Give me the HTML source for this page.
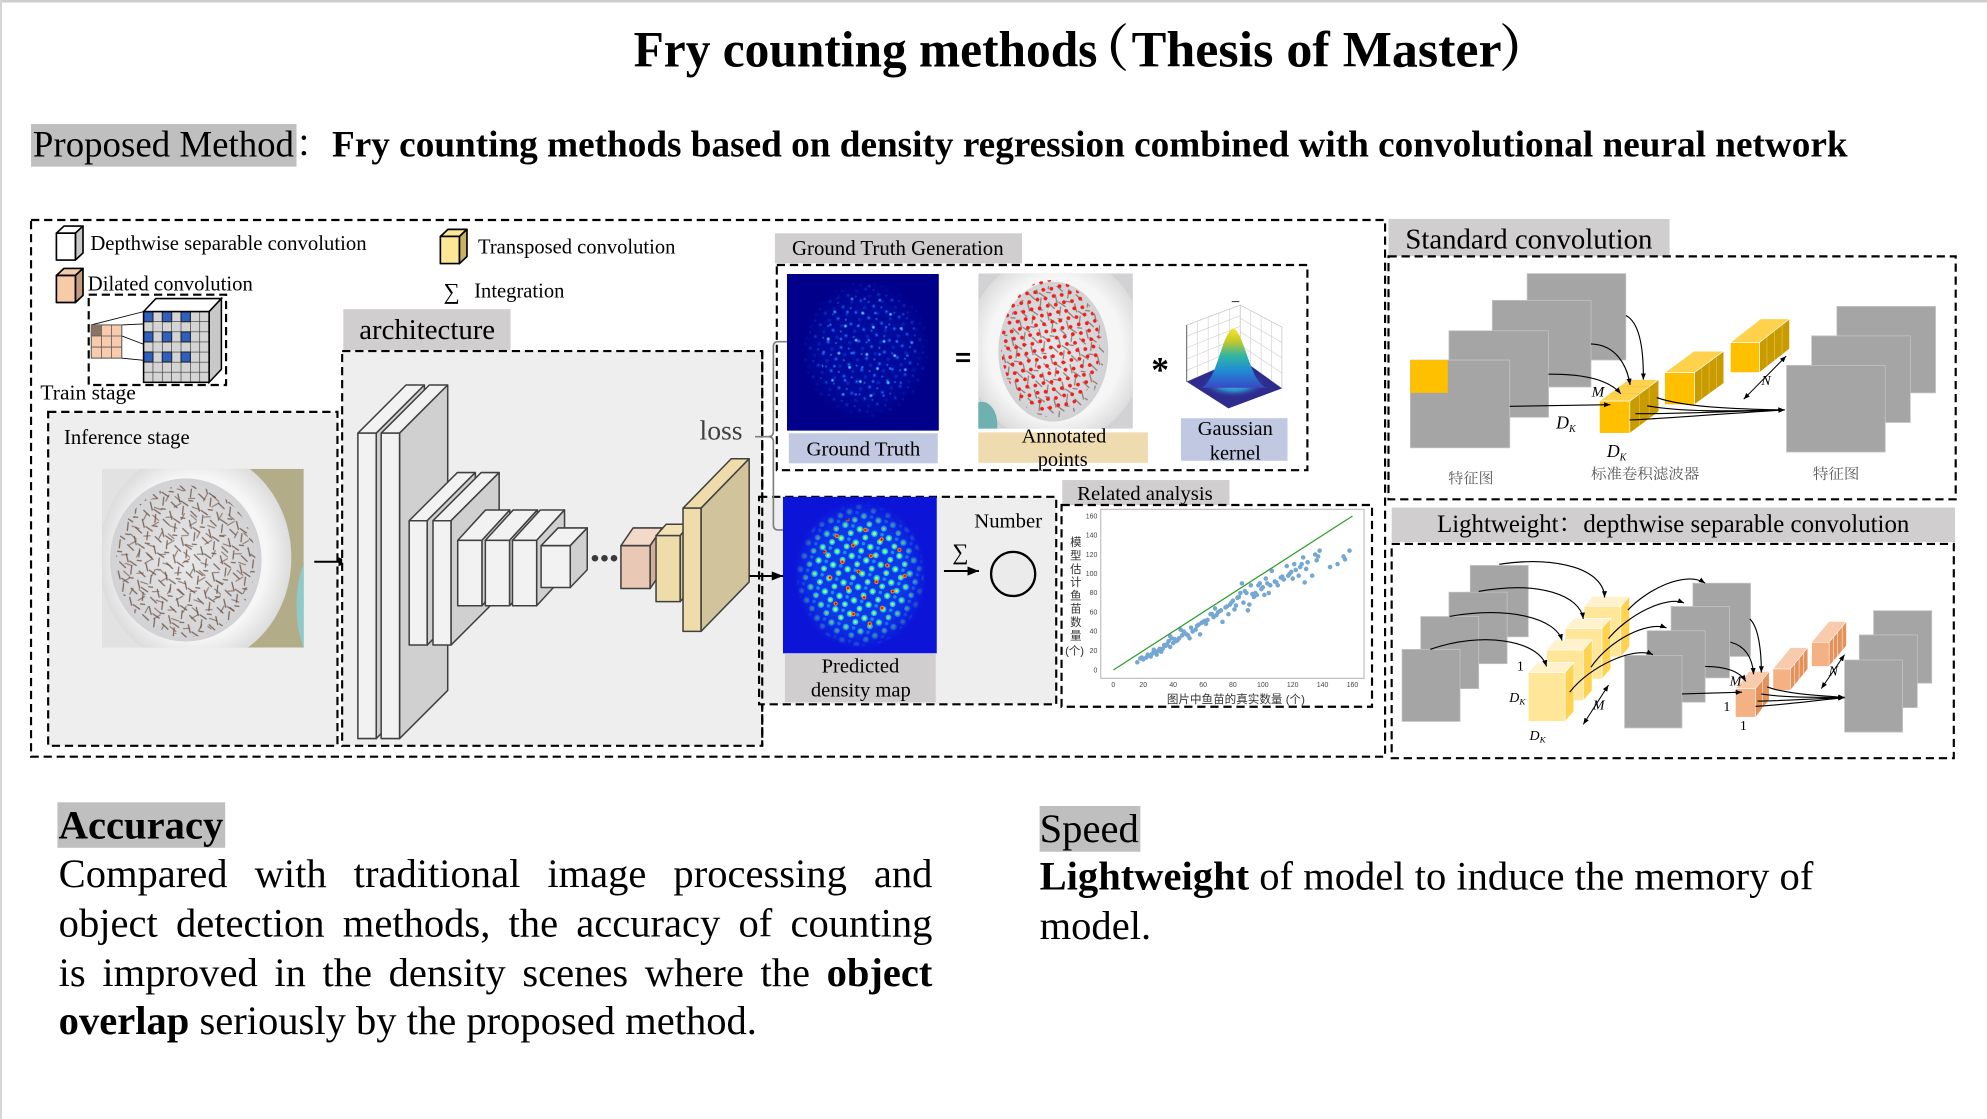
<!DOCTYPE html>
<html><head><meta charset="utf-8">
<style>
html,body{margin:0;padding:0;background:#fff;}
body{width:1987px;height:1119px;overflow:hidden;position:relative;}
#wrap{position:absolute;left:0;top:0;width:1568px;height:883px;transform:scale(1.26722,1.26727);transform-origin:0 0;font-family:"Liberation Serif","Noto Serif CJK SC",serif;color:#000;}
#wrap svg{position:absolute;left:0;top:0;}
.p{position:absolute;font-size:32px;line-height:38.8px;}
.j{text-align:justify;text-align-last:justify;}
.d{stroke:#000;stroke-width:1.7;stroke-dasharray:6.5 3.8;}
.bx{stroke:#404040;stroke-width:1.2;stroke-linejoin:round;}
.gs{fill:#a5a5a5;stroke:#c4c4c4;stroke-width:.6;}
.cv{fill:none;stroke:#000;stroke-width:.9;}
.it{font-style:italic;}
</style></head>
<body><div id="wrap">
<svg width="1568" height="883" viewBox="0 0 1568 883" font-family="'Liberation Serif','Noto Serif CJK SC',serif">
<defs>
<marker id="ah" viewBox="0 0 10 8" refX="10" refY="4" markerWidth="9" markerHeight="7.2" markerUnits="userSpaceOnUse" orient="auto"><path d="M0,0 L10,4 L0,8 z" fill="#000"/></marker>
<marker id="ahs" viewBox="0 0 10 8" refX="10" refY="4" markerWidth="5" markerHeight="4" markerUnits="userSpaceOnUse" orient="auto-start-reverse"><path d="M0,0 L10,4 L0,8 z" fill="#000"/></marker>
<pattern id="fishA" width="17" height="15" patternUnits="userSpaceOnUse" patternTransform="rotate(25)"><path d="M1 2l6 2M11 1l2 6M3 9l4 5M13 10l3-1M8 13l6 1" stroke="#5e4234" stroke-width="1" stroke-linecap="round" fill="none"/></pattern>
<pattern id="fishB" width="23" height="19" patternUnits="userSpaceOnUse" patternTransform="rotate(-40) translate(5,3)"><path d="M2 4l5-2M10 6l1 6M15 2l3 5M4 12l6 1M17 14l4 3" stroke="#6a4a3a" stroke-width=".9" stroke-linecap="round" fill="none"/></pattern>
<pattern id="red" width="9.5" height="9" patternUnits="userSpaceOnUse" patternTransform="rotate(31)"><circle cx="2" cy="2" r="1.5" fill="#f21d1d"/><circle cx="6.5" cy="6" r="1.5" fill="#f21d1d"/></pattern>
<pattern id="gtp" width="11" height="10" patternUnits="userSpaceOnUse" patternTransform="rotate(23)"><circle cx="3" cy="3" r="1.7" fill="#1446ff" opacity=".8"/><circle cx="3" cy="3" r=".7" fill="#35c8ff"/><circle cx="8" cy="7" r="1.4" fill="#1040f0" opacity=".7"/><circle cx="9" cy="1.5" r=".9" fill="#2a7cff"/></pattern>
<pattern id="gtq" width="17" height="14" patternUnits="userSpaceOnUse" patternTransform="rotate(-37)"><circle cx="4" cy="5" r="1.3" fill="#3aa0ff"/><circle cx="4" cy="5" r=".6" fill="#a0ffff"/><circle cx="12" cy="11" r="1.1" fill="#2b70ff"/></pattern>
<pattern id="prp" width="12" height="11" patternUnits="userSpaceOnUse" patternTransform="rotate(17)"><circle cx="3" cy="3" r="2.6" fill="#10b8ff"/><circle cx="3" cy="3" r="1.4" fill="#9cff5a"/><circle cx="9" cy="8" r="2.3" fill="#18d4f0"/><circle cx="9" cy="8" r="1" fill="#ffe020"/><circle cx="9" cy="2" r="1.4" fill="#1a8cff"/></pattern>
<pattern id="prr" width="23" height="21" patternUnits="userSpaceOnUse" patternTransform="rotate(-12)"><circle cx="6" cy="5" r="1.7" fill="#ff8a00"/><circle cx="6" cy="5" r=".9" fill="#e01010"/><circle cx="17" cy="15" r="1.6" fill="#ff9a00"/><circle cx="17" cy="15" r=".9" fill="#d00000"/></pattern>
<radialGradient id="gtfade"><stop offset=".6" stop-color="#00008a" stop-opacity="0"/><stop offset="1" stop-color="#00008a" stop-opacity="1"/></radialGradient>
<radialGradient id="prfade"><stop offset=".65" stop-color="#0c14d8" stop-opacity="0"/><stop offset="1" stop-color="#0c14d8" stop-opacity="1"/></radialGradient>
<radialGradient id="bowl"><stop offset=".75" stop-color="#f6f6f6"/><stop offset="1" stop-color="#dcdcdc"/></radialGradient>
<radialGradient id="water"><stop offset="0" stop-color="#e8e8ea"/><stop offset="1" stop-color="#d2d2d5"/></radialGradient>
<radialGradient id="flglow"><stop offset="0" stop-color="#40d0c0"/><stop offset=".5" stop-color="#2f8ad0"/><stop offset="1" stop-color="#2e2c8c" stop-opacity="0"/></radialGradient>
<linearGradient id="bell" x1="0" y1="0" x2="0" y2="1"><stop offset="0" stop-color="#f9e51f"/><stop offset=".22" stop-color="#c3c92a"/><stop offset=".45" stop-color="#35b7a0"/><stop offset=".7" stop-color="#1f8fd4"/><stop offset="1" stop-color="#3848c4"/></linearGradient>
<clipPath id="cInf"><rect x="80.5" y="370" width="159.2" height="141"/></clipPath>
<clipPath id="cAnn"><rect x="772" y="215.7" width="122" height="122.5"/></clipPath>
<clipPath id="cGt"><rect x="621" y="216.2" width="119.9" height="123.7"/></clipPath>
<clipPath id="cPr"><rect x="617.8" y="392" width="121.5" height="123.6"/></clipPath>
</defs>

<rect x="0" y="0" width="1568" height="2" fill="#cfcfcf"/>
<rect x="0" y="0" width="1.6" height="883" fill="#d6d6d6"/>

<text x="500" y="52.6" font-size="40" font-weight="bold" textLength="366" lengthAdjust="spacingAndGlyphs">Fry counting methods</text>
<text x="851" y="52.6" font-size="40" font-weight="bold">（</text>
<text x="893" y="52.6" font-size="40" font-weight="bold" textLength="292" lengthAdjust="spacingAndGlyphs">Thesis of Master</text>
<text x="1183" y="52.6" font-size="40" font-weight="bold">）</text>

<rect x="24.5" y="97.9" width="209.5" height="33.6" fill="#bfbfbf"/>
<text x="26" y="123.6" font-size="29.4" textLength="206" lengthAdjust="spacingAndGlyphs">Proposed Method</text>
<text x="233" y="123.6" font-size="29.4">：</text>
<text x="262" y="123.6" font-size="29.4" font-weight="bold" textLength="1196" lengthAdjust="spacingAndGlyphs">Fry counting methods based on density regression combined with convolutional neural network</text>

<rect class="d" x="24.5" y="173.6" width="1068.5" height="423.5" fill="none"/>

<g stroke="#000" stroke-width="1.3" stroke-linejoin="round">
<polygon points="44.5,184 50.5,178.4 65.5,178.4 59.5,184" fill="#fff"/>
<polygon points="59.5,184 65.5,178.4 65.5,199.6 59.5,205.2" fill="#c9c9c9"/>
<rect x="44.5" y="184" width="15" height="21.2" fill="#fff"/>
<polygon points="44.5,217.4 50.5,211.8 65.5,211.8 59.5,217.4" fill="#f7caa8"/>
<polygon points="59.5,217.4 65.5,211.8 65.5,233.1 59.5,238.7" fill="#c49a7e"/>
<rect x="44.5" y="217.4" width="15" height="21.3" fill="#f7caa8"/>
<polygon points="347.5,186.6 353.5,181 368.5,181 362.5,186.6" fill="#fde797"/>
<polygon points="362.5,186.6 368.5,181 368.5,202.4 362.5,208" fill="#c8b163"/>
<rect x="347.5" y="186.6" width="15" height="21.4" fill="#fde797"/>
</g>
<text x="71.3" y="197.3" font-size="16.4" textLength="218" lengthAdjust="spacingAndGlyphs">Depthwise separable convolution</text>
<text x="69.3" y="229.2" font-size="16.4" textLength="130.2" lengthAdjust="spacingAndGlyphs">Dilated convolution</text>
<text x="377.2" y="200.1" font-size="16.4" textLength="155.8" lengthAdjust="spacingAndGlyphs">Transposed convolution</text>
<text x="350" y="236" font-size="18">∑</text>
<text x="374.2" y="234.8" font-size="16.4" textLength="71.2" lengthAdjust="spacingAndGlyphs">Integration</text>

<rect class="d" x="70" y="232.5" width="108.4" height="71.3" fill="none"/>
<g stroke="#000" stroke-width=".7">
<line x1="72" y1="256.4" x2="113.3" y2="245.9"/>
<line x1="96.1" y1="256.4" x2="150.2" y2="253.9"/>
<line x1="96.1" y1="265.1" x2="150.2" y2="285.7"/>
<line x1="96.1" y1="282.6" x2="128" y2="285.7"/>
</g>
<rect x="72" y="256.4" width="24.1" height="26.2" fill="#f8cbad" stroke="#555" stroke-width=".8"/>
<rect x="72" y="256.4" width="8.03" height="8.73" fill="#8b7363"/>
<path d="M80.03 256.4V282.6M88.07 256.4V282.6M72 265.13H96.1M72 273.87H96.1" stroke="#555" stroke-width=".6"/>
<polygon points="113.3,245.9 123,235.6 174.7,235.6 165,245.9" fill="#fff" stroke="#000" stroke-width="1.2"/>
<polygon points="165,245.9 174.7,235.6 174.7,291.4 165,301.7" fill="#c8c8c8" stroke="#000" stroke-width="1.2"/>
<rect x="113.3" y="245.9" width="51.7" height="55.8" fill="#d4d4d4"/>
<g fill="#2f5fbf" stroke="#000" stroke-width=".8">
<rect x="113.3" y="245.9" width="7.39" height="7.97"/><rect x="128.07" y="245.9" width="7.39" height="7.97"/><rect x="142.84" y="245.9" width="7.39" height="7.97"/>
<rect x="113.3" y="261.84" width="7.39" height="7.97"/><rect x="128.07" y="261.84" width="7.39" height="7.97"/><rect x="142.84" y="261.84" width="7.39" height="7.97"/>
<rect x="113.3" y="277.78" width="7.39" height="7.97"/><rect x="128.07" y="277.78" width="7.39" height="7.97"/><rect x="142.84" y="277.78" width="7.39" height="7.97"/>
</g>
<path d="M120.69 245.9V301.7M128.07 245.9V301.7M135.46 245.9V301.7M142.84 245.9V301.7M150.23 245.9V301.7M157.62 245.9V301.7M113.3 253.87H165M113.3 261.84H165M113.3 269.81H165M113.3 277.78H165M113.3 285.76H165M113.3 293.73H165" stroke="#333" stroke-width=".5"/>
<rect x="113.3" y="245.9" width="51.7" height="55.8" fill="none" stroke="#000" stroke-width="1.2"/>
<text x="31.9" y="315.1" font-size="16.4" textLength="75.3" lengthAdjust="spacingAndGlyphs">Train stage</text>

<rect class="d" x="38" y="325" width="228.3" height="263.5" fill="#eeeeee"/>
<text x="50.5" y="350.3" font-size="16.4" textLength="99.2" lengthAdjust="spacingAndGlyphs">Inference stage</text>
<g clip-path="url(#cInf)">
<rect x="80.5" y="370" width="159.2" height="141" fill="#b3ac88"/>
<rect x="80.5" y="370" width="80" height="141" fill="#e2e2e2"/>
<ellipse cx="254" cy="478" rx="20" ry="48" fill="#8ecaca"/>
<ellipse cx="153.9" cy="440" rx="76" ry="85" fill="url(#bowl)"/>
<ellipse cx="146.6" cy="441.9" rx="59.8" ry="64.4" fill="url(#water)"/>
<ellipse cx="146.6" cy="443" rx="55" ry="60" fill="url(#fishA)" opacity=".75"/>
<ellipse cx="146.6" cy="443" rx="52" ry="58" fill="url(#fishB)" opacity=".65"/>
</g>
<line x1="248" y1="443.3" x2="276" y2="443.3" stroke="#000" stroke-width="1.6" marker-end="url(#ah)"/>

<rect x="270.9" y="244" width="132" height="32.5" fill="#d0cece"/>
<text x="283.5" y="267.7" font-size="22.7" textLength="107.2" lengthAdjust="spacingAndGlyphs">architecture</text>
<rect class="d" x="270" y="277" width="331.5" height="311.5" fill="#eeeeee"/>

<g class="bx">
<polygon points="282.4,341.8 320.4,303.8 334.9,303.8 296.9,341.8" fill="#f2f2f2"/>
<polygon points="296.9,341.8 334.9,303.8 334.9,544.8 296.9,582.8" fill="#d0d0d0"/>
<rect x="282.4" y="341.8" width="14.5" height="241" fill="#f2f2f2"/>
<polygon points="300.8,341.8 338.8,303.8 353.3,303.8 315.3,341.8" fill="#f2f2f2"/>
<polygon points="315.3,341.8 353.3,303.8 353.3,544.8 315.3,582.8" fill="#d0d0d0"/>
<rect x="300.8" y="341.8" width="14.5" height="241" fill="#f2f2f2"/>

<polygon points="322.9,410.9 360.9,372.9 375.1,372.9 337.1,410.9" fill="#f2f2f2"/>
<polygon points="337.1,410.9 375.1,372.9 375.1,471 337.1,509" fill="#d0d0d0"/>
<rect x="322.9" y="410.9" width="14.2" height="98.1" fill="#f2f2f2"/>
<polygon points="341.7,410.9 379.7,372.9 393.9,372.9 355.9,410.9" fill="#f2f2f2"/>
<polygon points="355.9,410.9 393.9,372.9 393.9,471 355.9,509" fill="#d0d0d0"/>
<rect x="341.7" y="410.9" width="14.2" height="98.1" fill="#f2f2f2"/>

<polygon points="361.2,426.4 383.2,402.4 402.3,402.4 380.3,426.4" fill="#f2f2f2"/>
<polygon points="380.3,426.4 402.3,402.4 402.3,454 380.3,478" fill="#d0d0d0"/>
<rect x="361.2" y="426.4" width="19.1" height="51.6" fill="#f2f2f2"/>
<polygon points="383,426.4 405,402.4 424.1,402.4 402.1,426.4" fill="#f2f2f2"/>
<polygon points="402.1,426.4 424.1,402.4 424.1,454 402.1,478" fill="#d0d0d0"/>
<rect x="383" y="426.4" width="19.1" height="51.6" fill="#f2f2f2"/>
<polygon points="404.4,426.4 426.4,402.4 445.5,402.4 423.5,426.4" fill="#f2f2f2"/>
<polygon points="423.5,426.4 445.5,402.4 445.5,454 423.5,478" fill="#d0d0d0"/>
<rect x="404.4" y="426.4" width="19.1" height="51.6" fill="#f2f2f2"/>

<polygon points="427,430.6 440.4,416.6 463.4,416.6 450,430.6" fill="#f2f2f2"/>
<polygon points="450,430.6 463.4,416.6 463.4,449.6 450,463.6" fill="#d0d0d0"/>
<rect x="427" y="430.6" width="23" height="33" fill="#f2f2f2"/>

<polygon points="490,430.6 499.6,416.6 522.6,416.6 513,430.6" fill="#f2d9c8"/>
<polygon points="513,430.6 522.6,416.6 522.6,450.4 513,464.4" fill="#cfae9a"/>
<rect x="490" y="430.6" width="23" height="33.8" fill="#e9c9b5"/>

<polygon points="517.7,422.7 525.7,413.7 544.7,413.7 536.7,422.7" fill="#f2e2b6"/>
<polygon points="536.7,422.7 544.7,413.7 544.7,465.7 536.7,474.7" fill="#d6c698"/>
<rect x="517.7" y="422.7" width="19" height="52" fill="#efdcab"/>

<polygon points="539,401 577,362 591.2,362 553.2,401" fill="#f0dcaa"/>
<polygon points="553.2,401 591.2,362 591.2,459.2 553.2,498.2" fill="#d1c39b"/>
<rect x="539" y="401" width="14.2" height="97.2" fill="#f0dcaa"/>
</g>
<circle cx="469.5" cy="440.5" r="2.6" fill="#3a3a3a"/><circle cx="477" cy="440.5" r="2.6" fill="#3a3a3a"/><circle cx="484.5" cy="440.5" r="2.6" fill="#3a3a3a"/>
<text x="552" y="346.7" font-size="22" fill="#404040" textLength="34" lengthAdjust="spacingAndGlyphs">loss</text>

<rect class="d" x="599" y="392" width="234.5" height="163.8" fill="#eeeeee"/>
<line class="d" x1="601.5" y1="277" x2="601.5" y2="588.5" fill="none"/>
<line x1="591.5" y1="454.5" x2="618" y2="454.5" stroke="#000" stroke-width="1.6" marker-end="url(#ah)"/>

<path d="M621 269.6H614Q610.3 269.6 610.3 273.5V340.5Q610.3 344.6 606 344.6H595.8M606 344.6Q610.3 344.6 610.3 348.5V414Q610.3 418.2 614 418.2H618" fill="none" stroke="#7f7f7f" stroke-width="1.3"/>

<rect x="611.5" y="184.1" width="195" height="23.7" fill="#d0cece"/>
<text x="625" y="201.2" font-size="16.3" textLength="167" lengthAdjust="spacingAndGlyphs">Ground Truth Generation</text>
<rect class="d" x="613" y="209.1" width="418.7" height="161.9" fill="none"/>
<g clip-path="url(#cGt)">
<rect x="621" y="216.2" width="119.9" height="123.7" fill="#00008a"/>
<ellipse cx="683" cy="276" rx="50" ry="54" fill="#0018b0" opacity=".45"/>
<ellipse cx="683" cy="276" rx="50" ry="54" fill="url(#gtp)" opacity=".6"/>
<ellipse cx="686" cy="272" rx="40" ry="48" fill="url(#gtq)" opacity=".8"/>
<ellipse cx="683" cy="276" rx="52" ry="56" fill="url(#gtfade)"/>
</g>
<rect x="622.5" y="341.9" width="117.5" height="23.7" fill="#c0c8e2"/>
<text x="681.3" y="359.6" font-size="16" text-anchor="middle" textLength="89.8" lengthAdjust="spacingAndGlyphs">Ground Truth</text>
<rect x="754.5" y="278.5" width="11" height="2.2" fill="#000"/><rect x="754.5" y="283.5" width="11" height="2.2" fill="#000"/>

<g clip-path="url(#cAnn)">
<rect x="772" y="215.7" width="122" height="123" fill="#d2d2d4"/>
<ellipse cx="833" cy="275" rx="70" ry="75" fill="url(#bowl)"/>
<ellipse cx="775" cy="335" rx="12" ry="18" fill="#6fb0b0"/>
<ellipse cx="831.2" cy="277.5" rx="43.4" ry="55.2" fill="url(#water)"/>
<ellipse cx="831.2" cy="277.5" rx="40" ry="52" fill="url(#fishA)" opacity=".6"/>
<ellipse cx="829" cy="273" rx="39" ry="52" fill="url(#red)"/>
</g>
<rect x="772" y="341.2" width="133.8" height="24" fill="#efdbb0"/>
<text x="839.6" y="349.3" font-size="16" text-anchor="middle" textLength="66.8" lengthAdjust="spacingAndGlyphs">Annotated</text>
<text x="838.6" y="367.8" font-size="16" text-anchor="middle" textLength="39.4" lengthAdjust="spacingAndGlyphs">points</text>
<text x="908.5" y="301" font-size="28" font-weight="bold">*</text>

<polygon points="936.5,256.5 978.7,240.7 978.7,282.8 936.5,301.2" fill="#fff" stroke="#bbb" stroke-width=".5"/>
<polygon points="978.7,240.7 1011.6,258.2 1011.6,306.5 978.7,282.8" fill="#fff" stroke="#bbb" stroke-width=".5"/>
<path d="M944.9 253.3V297.5M953.4 250.2V293.8M961.8 247V290.2M970.3 243.9V286.5M936.5 265.4L978.7 249.1M936.5 274.4L978.7 257.5M936.5 283.3L978.7 266M936.5 292.3L978.7 274.4M986.9 245.1V288.7M995.2 249.5V294.7M1003.4 253.8V300.6M978.7 251.2L1011.6 270.3M978.7 261.8L1011.6 282.4M978.7 272.3L1011.6 294.4" stroke="#d0d0d0" stroke-width=".5"/>
<line x1="936.5" y1="256.5" x2="936.5" y2="301.2" stroke="#333" stroke-width=".6"/>
<polygon points="936.5,301.2 978.7,282.8 1011.6,306.5 969.4,322.2" fill="#2e2c8c"/>
<ellipse cx="973.5" cy="303" rx="26" ry="11" fill="url(#flglow)"/>
<path d="M947 306C960 304 964 262 973.2 259.1C982 262 987 304 1000 306Z" fill="url(#bell)"/>
<line x1="972" y1="238" x2="978" y2="238" stroke="#333" stroke-width=".8"/>
<rect x="931.9" y="330" width="84.1" height="33.6" fill="#c0c8e2"/>
<text x="974.8" y="343.3" font-size="16" text-anchor="middle" textLength="59.3" lengthAdjust="spacingAndGlyphs">Gaussian</text>
<text x="974.8" y="362.5" font-size="16" text-anchor="middle" textLength="40.3" lengthAdjust="spacingAndGlyphs">kernel</text>

<g clip-path="url(#cPr)">
<rect x="617.8" y="392" width="121.5" height="123.6" fill="#0c14d8"/>
<ellipse cx="679" cy="454" rx="52" ry="58" fill="#1050f0" opacity=".6"/>
<ellipse cx="679" cy="454" rx="50" ry="56" fill="url(#prp)"/>
<ellipse cx="682" cy="450" rx="34" ry="44" fill="url(#prr)"/>
<ellipse cx="679" cy="454" rx="53" ry="59" fill="url(#prfade)"/>
</g>
<rect x="619.4" y="516.1" width="119" height="38.1" fill="#d0cece"/>
<text x="679" y="530.6" font-size="16" text-anchor="middle" textLength="61.3" lengthAdjust="spacingAndGlyphs">Predicted</text>
<text x="679.3" y="549.8" font-size="16" text-anchor="middle" textLength="78.9" lengthAdjust="spacingAndGlyphs">density map</text>
<text x="768.8" y="416.1" font-size="16" textLength="53.6" lengthAdjust="spacingAndGlyphs">Number</text>
<text x="751.5" y="441.4" font-size="18">∑</text>
<line x1="744.9" y1="450.6" x2="772.5" y2="450.6" stroke="#000" stroke-width="1.6" marker-end="url(#ah)"/>
<circle cx="799.5" cy="452.9" r="17.4" fill="#ebebeb" stroke="#000" stroke-width="1.8"/>

<rect x="838.3" y="378.8" width="131.9" height="19.7" fill="#d0cece"/>
<text x="850" y="394.6" font-size="15.6" textLength="107" lengthAdjust="spacingAndGlyphs">Related analysis</text>
<rect class="d" x="837.7" y="398.5" width="245" height="159.2" fill="#fff"/>
<rect x="868.6" y="401.9" width="207.8" height="133.4" fill="#fff" stroke="#bdbdbd" stroke-width=".9"/>
<g font-family="'Liberation Sans',sans-serif" font-size="5.5" fill="#444">
<text x="866" y="530.5" text-anchor="end">0</text><text x="866" y="515.3" text-anchor="end">20</text><text x="866" y="500.1" text-anchor="end">40</text><text x="866" y="484.9" text-anchor="end">60</text><text x="866" y="469.7" text-anchor="end">80</text><text x="866" y="454.6" text-anchor="end">100</text><text x="866" y="439.4" text-anchor="end">120</text><text x="866" y="424.2" text-anchor="end">140</text><text x="866" y="409" text-anchor="end">160</text>
<text x="878.6" y="542" text-anchor="middle">0</text><text x="902.2" y="542" text-anchor="middle">20</text><text x="925.8" y="542" text-anchor="middle">40</text><text x="949.4" y="542" text-anchor="middle">60</text><text x="972.9" y="542" text-anchor="middle">80</text><text x="996.5" y="542" text-anchor="middle">100</text><text x="1020.1" y="542" text-anchor="middle">120</text><text x="1043.7" y="542" text-anchor="middle">140</text><text x="1067.3" y="542" text-anchor="middle">160</text>
</g>
<g font-family="'Liberation Sans','Noto Sans CJK SC',sans-serif" font-size="9" fill="#333" text-anchor="middle">
<text x="849" y="431">模</text><text x="849" y="441.5">型</text><text x="849" y="452">估</text><text x="849" y="462.5">计</text><text x="849" y="473">鱼</text><text x="849" y="483.5">苗</text><text x="849" y="494">数</text><text x="849" y="504.5">量</text><text x="848" y="516.5">(个)</text>
<text x="975.3" y="554.6" textLength="109" lengthAdjust="spacingAndGlyphs">图片中鱼苗的真实数量 (个)</text>
</g>
<g transform="translate(878.6,528.7) scale(1.1794,-0.7594)">
<line x1="0" y1="0" x2="160" y2="160" stroke="#2ca02c" stroke-width="1" vector-effect="non-scaling-stroke"/>
<path d="M16 8h0M18 12h0M20 11h0M22 13h0M24 15h0M25 14h0M26 17h0M28 18h0M30 20h0M32 19h0M27 21h0M29 16h0M33 22h0M35 25h0M36 27h0M38 24h0M37 30h0M38 35h0M40 28h0M42 30h0M44 33h0M45 42h0M47 40h0M48 38h0M50 36h0M51 33h0M52 44h0M53 40h0M55 42h0M57 47h0M58 37h0M60 50h0M62 48h0M63 52h0M65 58h0M67 55h0M68 64h0M70 60h0M72 62h0M73 50h0M75 65h0M77 58h0M78 68h0M79 70h0M80 72h0M81 63h0M82 67h0M83 75h0M85 80h0M86 90h0M87 70h0M88 82h0M90 62h0M91 68h0M92 88h0M93 79h0M95 80h0M96 78h0M97 88h0M98 90h0M100 86h0M101 78h0M102 95h0M104 80h0M105 88h0M106 103h0M108 92h0M110 88h0M112 96h0M114 94h0M116 108h0M118 100h0M120 95h0M122 104h0M124 98h0M126 110h0M127 117h0M128 91h0M130 112h0M133 98h0M135 120h0M137 118h0M138 124h0M145 107h0M150 110h0M154 118h0M155 115h0M158 124h0M84 76h0M76 66h0M66 58h0M56 46h0M46 36h0M34 26h0M23 16h0M19 13h0M31 22h0M41 32h0M49 37h0M59 49h0M69 57h0M89 80h0M99 84h0M109 91h0M119 102h0M129 105h0M39 33h0M43 31h0M61 51h0M71 61h0M94 76h0M103 90h0M113 97h0M117 98h0M121 110h0M125 107h0M136 114h0" fill="none" stroke="#3b82c0" stroke-opacity=".7" stroke-width="3.6" stroke-linecap="round" vector-effect="non-scaling-stroke"/>
</g>

<rect x="1095.7" y="172.8" width="221.8" height="29.5" fill="#d0cece"/>
<text x="1109" y="196.2" font-size="22.7" textLength="195" lengthAdjust="spacingAndGlyphs">Standard convolution</text>
<rect class="d" x="1095.7" y="202.3" width="447.6" height="191.7" fill="#fff"/>
<rect class="gs" x="1205.1" y="215.9" width="77.9" height="68.2"/>
<rect class="gs" x="1177.6" y="237" width="77.9" height="68.4"/>
<rect class="gs" x="1143.4" y="261" width="78.6" height="68.3"/>
<rect class="gs" x="1112.9" y="284.1" width="78.5" height="69.3"/>
<rect x="1112.9" y="284.1" width="29.6" height="25.9" fill="#ffc000"/>
<rect class="gs" x="1449.5" y="241.8" width="77.9" height="68.2"/>
<rect class="gs" x="1429.6" y="265" width="77.9" height="68.4"/>
<rect class="gs" x="1409.8" y="288.3" width="77.9" height="68.4"/>
<g stroke-width=".5">
<polygon points="1262.2,316.5 1285.1,299.5 1309,299.5 1286.1,316.5" fill="#ffd24d" stroke="#fff"/>
<polygon points="1286.1,316.5 1309,299.5 1309,324.9 1286.1,341.9" fill="#c89b00" stroke="#fff"/>
<rect x="1262.2" y="316.5" width="23.9" height="25.4" fill="#ffc000" stroke="#fff"/>
<path d="M1293.7 310.8V336.2M1301.4 305.2V330.6M1269.8 310.8H1293.7M1277.5 305.2H1301.4" stroke="#f0c040"/>
<polygon points="1313.6,294 1336.8,277.1 1360.3,277.1 1337.1,294" fill="#ffd24d" stroke="#fff"/>
<polygon points="1337.1,294 1360.3,277.1 1360.3,302.4 1337.1,319.3" fill="#c89b00" stroke="#fff"/>
<rect x="1313.6" y="294" width="23.5" height="25.3" fill="#ffc000" stroke="#fff"/>
<path d="M1342.9 289.8V315.1M1348.7 285.5V310.8M1354.5 281.3V306.6" stroke="#f0c040"/>
<polygon points="1365.5,270.3 1389.3,251.6 1412.2,251.6 1388.4,270.3" fill="#ffd24d" stroke="#fff"/>
<polygon points="1388.4,270.3 1412.2,251.6 1412.2,275.3 1388.4,294" fill="#c89b00" stroke="#fff"/>
<rect x="1365.5" y="270.3" width="22.9" height="23.7" fill="#ffc000" stroke="#fff"/>
<path d="M1394.35 265.6V289.3M1400.3 261V284.7M1406.3 256.3V280" stroke="#f0c040"/>
</g>
<g class="cv" marker-end="url(#ahs)">
<path d="M1283 249C1295 255 1297 280 1296.8 299.6"/>
<path d="M1255.5 271.4C1275 272 1284 288 1286.3 303.8"/>
<path d="M1222 295.3C1250 295 1270 300 1279 310.7"/>
<path d="M1191.4 320.6L1270.8 319.3"/>
<path d="M1307.4 313.7C1330 322 1380 323 1408.3 323.5"/>
<path d="M1299.8 320.2C1330 326 1380 324 1408.3 323.5"/>
<path d="M1290.6 326.4C1320 327 1380 324 1408.3 323.5"/>
<path d="M1286 331.4C1320 330 1380 325 1408.3 323.5"/>
</g>
<line x1="1376" y1="315" x2="1409.5" y2="281" stroke="#000" stroke-width=".8" marker-start="url(#ahs)" marker-end="url(#ahs)"/>
<text x="1256" y="313" font-size="12" class="it">M</text>
<text x="1228" y="338" font-size="14" class="it">D<tspan font-size="8" dy="3">K</tspan></text>
<text x="1268" y="360.5" font-size="14" class="it">D<tspan font-size="8" dy="3">K</tspan></text>
<text x="1390" y="304" font-size="11" class="it">N</text>
<g font-family="'Liberation Serif','Noto Serif CJK SC',serif" font-size="11.5" fill="#595959">
<text x="1142.9" y="381.5" textLength="35.7" lengthAdjust="spacingAndGlyphs">特征图</text>
<text x="1255.5" y="378" textLength="85.5" lengthAdjust="spacingAndGlyphs">标准卷积滤波器</text>
<text x="1430.6" y="378" textLength="36.7" lengthAdjust="spacingAndGlyphs">特征图</text>
</g>

<rect x="1098.2" y="400.5" width="444.6" height="27.3" fill="#d0cece"/>
<text x="1134" y="419.9" font-size="20" textLength="372.7" lengthAdjust="spacingAndGlyphs">Lightweight：depthwise separable convolution</text>
<rect class="d" x="1098.2" y="429.2" width="443.6" height="169.1" fill="#fff"/>
<rect class="gs" x="1160.2" y="446.2" width="45.8" height="56.3"/>
<rect class="gs" x="1143.4" y="467.3" width="45.9" height="56.4"/>
<rect class="gs" x="1121.1" y="486.5" width="45.8" height="56.9"/>
<rect class="gs" x="1106.4" y="512.4" width="45.8" height="56.9"/>
<g stroke="#fff" stroke-width=".5">
<polygon points="1250,478.4 1257,470.4 1286,470.4 1279,478.4" fill="#fff2cc"/>
<polygon points="1279,478.4 1286,470.4 1286,510.4 1279,518.4" fill="#ffd24f"/>
<rect x="1250" y="478.4" width="29" height="40" fill="#ffe699"/>
<polygon points="1235.1,495.9 1242.1,487.9 1271.1,487.9 1264.1,495.9" fill="#fff2cc"/>
<polygon points="1264.1,495.9 1271.1,487.9 1271.1,527.9 1264.1,535.9" fill="#ffd24f"/>
<rect x="1235.1" y="495.9" width="29" height="40" fill="#ffe699"/>
<polygon points="1220.4,512.9 1227.4,504.9 1256.4,504.9 1249.4,512.9" fill="#fff2cc"/>
<polygon points="1249.4,512.9 1256.4,504.9 1256.4,544.9 1249.4,552.9" fill="#ffd24f"/>
<rect x="1220.4" y="512.9" width="29" height="40" fill="#ffe699"/>
<polygon points="1206,530.7 1213,522.7 1242,522.7 1235,530.7" fill="#fff2cc"/>
<polygon points="1235,530.7 1242,522.7 1242,561.3 1235,569.3" fill="#ffd24f"/>
<rect x="1206" y="530.7" width="29" height="38.6" fill="#ffe699"/>
</g>
<rect class="gs" x="1335.9" y="460.2" width="45.5" height="57.8"/>
<rect class="gs" x="1318.7" y="478.6" width="46.1" height="56.3"/>
<rect class="gs" x="1299.8" y="497.7" width="45.8" height="56.4"/>
<rect class="gs" x="1282" y="517.2" width="45.3" height="57.2"/>
<g stroke="#fff" stroke-width=".4">
<polygon points="1369.5,543.4 1380.2,529.8 1396.1,529.8 1385.4,543.4" fill="#f8cbad"/>
<polygon points="1385.4,543.4 1396.1,529.8 1396.1,552.3 1385.4,565.9" fill="#e5915a"/>
<rect x="1369.5" y="543.4" width="15.9" height="22.5" fill="#f4b183"/>
<polygon points="1399.1,527.9 1412.9,511 1426.6,511 1412.8,527.9" fill="#f8cbad"/>
<polygon points="1412.8,527.9 1426.6,511 1426.6,527.9 1412.8,544.8" fill="#e5915a"/>
<rect x="1399.1" y="527.9" width="13.7" height="16.9" fill="#f4b183"/>
<polygon points="1429.6,506.8 1443.3,490.4 1457.1,490.4 1443.4,506.8" fill="#f8cbad"/>
<polygon points="1443.4,506.8 1457.1,490.4 1457.1,509.5 1443.4,525.9" fill="#e5915a"/>
<rect x="1429.6" y="506.8" width="13.8" height="19.1" fill="#f4b183"/>
<path d="M1416.3 523.7V540.6M1419.7 519.5V536.4M1423.2 515.2V532.1M1446.8 502.7V521.8M1450.2 498.6V517.7M1453.7 494.5V513.6M1390.7 536.6V559.1" fill="none"/>
</g>
<rect class="gs" x="1478.5" y="481.9" width="45.9" height="57.2"/>
<rect class="gs" x="1467.2" y="501" width="45.8" height="57.4"/>
<rect class="gs" x="1455.6" y="520.8" width="45.8" height="56.9"/>
<g class="cv" marker-end="url(#ahs)">
<path d="M1183.1 445.3C1230 438 1266 450 1266.2 471.5"/>
<path d="M1166.9 466.7C1215 458 1247 470 1249.4 488.4"/>
<path d="M1144 486.4C1190 478 1228 488 1232.6 505.4"/>
<path d="M1128.7 512.4C1170 498 1214 505 1220.4 525.9"/>
<path d="M1284.6 481.4C1300 465 1330 450 1345.6 460.2"/>
<path d="M1269.3 503.9C1285 485 1315 470 1328.9 475.8"/>
<path d="M1255.5 526.5C1270 505 1300 490 1315.1 495.5"/>
<path d="M1238.7 546.2C1255 525 1290 510 1304.4 516.6"/>
<path d="M1380.8 488.4C1388 495 1390 515 1389.9 530.7"/>
<path d="M1365.5 506.7C1378 510 1383 520 1383.8 532.1"/>
<path d="M1345.6 525.9C1362 526 1373 530 1377.7 537.7"/>
<path d="M1327.3 547.6L1374.7 546.2"/>
<path d="M1394.5 542C1410 548 1440 549 1455.6 550.4"/>
<path d="M1389.9 547.6C1410 551 1440 550 1455.6 550.4"/>
<path d="M1386.9 553.2C1410 553 1440 551 1455.6 550.4"/>
<path d="M1385.4 557.4C1410 556 1440 552 1455.6 550.4"/>
</g>
<line x1="1249.4" y1="571.6" x2="1269.3" y2="540.6" stroke="#000" stroke-width=".8" marker-start="url(#ahs)" marker-end="url(#ahs)"/>
<line x1="1437.2" y1="543.4" x2="1455.6" y2="516.6" stroke="#000" stroke-width=".8" marker-start="url(#ahs)" marker-end="url(#ahs)"/>
<g font-size="11">
<text x="1197" y="529">1</text>
<text x="1191" y="554" class="it">D<tspan font-size="7" dy="2">K</tspan></text>
<text x="1207" y="584" class="it">D<tspan font-size="7" dy="2">K</tspan></text>
<text x="1257" y="560" class="it">M</text>
<text x="1365" y="541" class="it">M</text>
<text x="1360" y="561">1</text>
<text x="1373" y="576">1</text>
<text x="1443" y="533" class="it">N</text>
</g>

<rect x="45.3" y="633.1" width="132.4" height="35.9" fill="#bfbfbf"/>
<text x="46.3" y="661.6" font-size="32" font-weight="bold" textLength="129.9" lengthAdjust="spacingAndGlyphs">Accuracy</text>
<rect x="820.4" y="636" width="79.5" height="36.1" fill="#bfbfbf"/>
<text x="820.4" y="664.5" font-size="32" textLength="78.2" lengthAdjust="spacingAndGlyphs">Speed</text>
</svg>

<div class="p" style="left:46.3px;top:670px;width:689.5px;">
<div class="j">Compared with traditional image processing and</div>
<div class="j">object detection methods, the accuracy of counting</div>
<div class="j">is improved in the density scenes where the <b>object</b></div>
<div><b>overlap</b> seriously by the proposed method.</div>
</div>
<div class="p" style="left:820.4px;top:672px;line-height:39px;white-space:nowrap;"><b>Lightweight</b> of model to induce the memory of<br>model.</div>
</div></body></html>
